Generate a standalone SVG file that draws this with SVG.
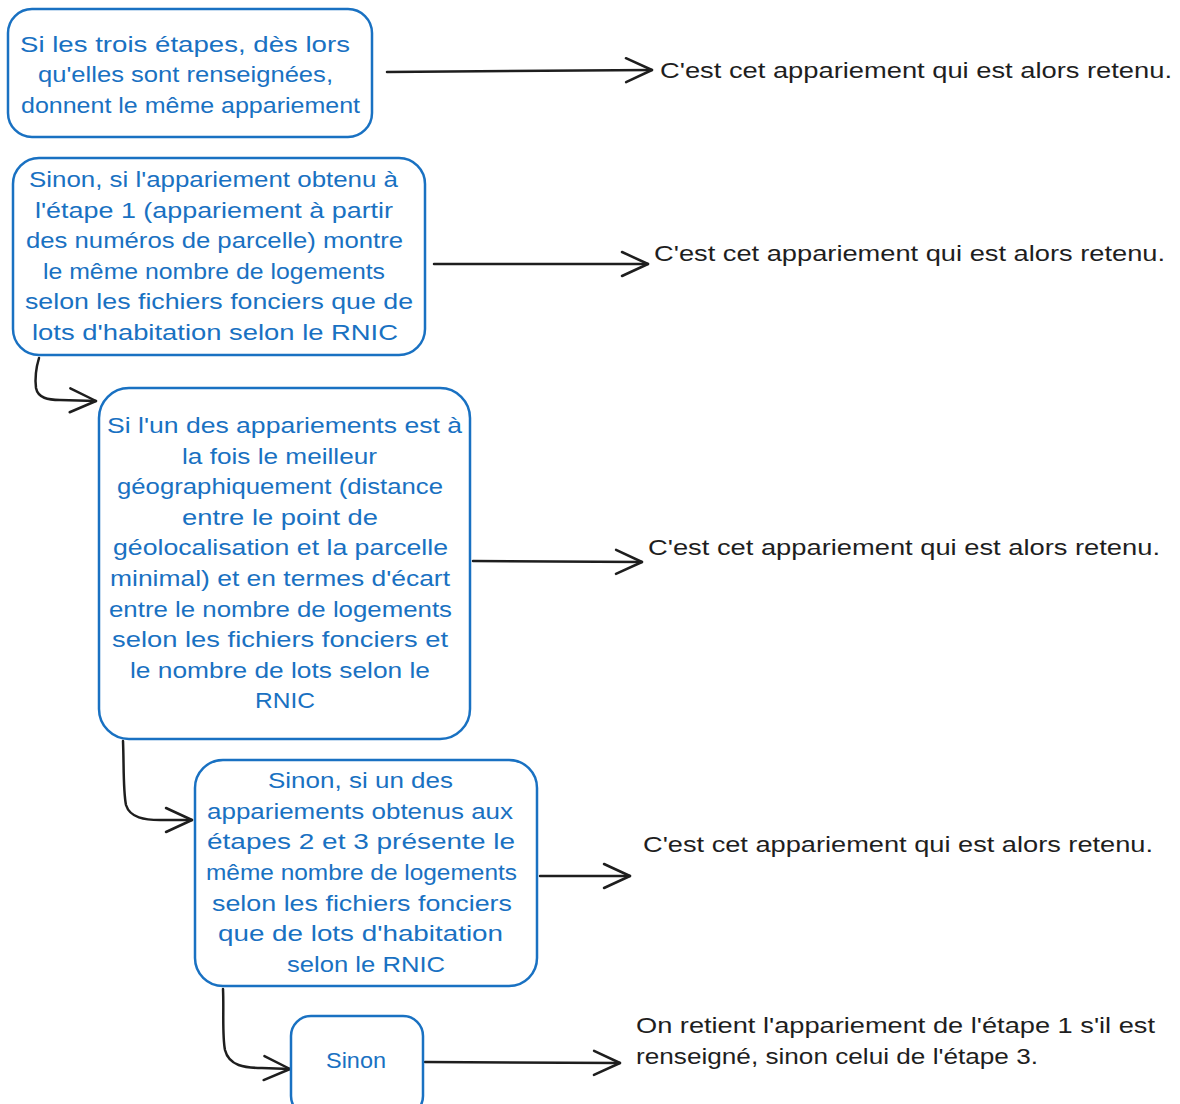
<svg xmlns="http://www.w3.org/2000/svg" width="1180" height="1104" viewBox="0 0 1180 1104">
<defs>
<style>
.box{fill:#ffffff;stroke:#1971c2;stroke-width:2.5}
.bt{font-family:"Liberation Sans","DejaVu Sans",sans-serif;font-size:22px;fill:#1971c2}
.lt{font-family:"Liberation Sans","DejaVu Sans",sans-serif;font-size:22px;fill:#1e1e1e}
.conn{fill:none;stroke:#1e1e1e;stroke-width:2.5;stroke-linecap:round;stroke-linejoin:round}
</style>
<marker id="ah" viewBox="0 0 30 30" refX="28" refY="15" markerWidth="30" markerHeight="30" markerUnits="userSpaceOnUse" orient="auto">
<path d="M2,3 L28,15 L2,27" fill="none" stroke="#1e1e1e" stroke-width="2.5" stroke-linecap="round" stroke-linejoin="round"/>
</marker>
</defs>
<rect width="1180" height="1104" fill="#ffffff"/>

<g id="connectors">
<path class="conn" d="M387,72 L652,70" marker-end="url(#ah)"/>
<path class="conn" d="M434,264 L648,264" marker-end="url(#ah)"/>
<path class="conn" d="M473,561 L642,562" marker-end="url(#ah)"/>
<path class="conn" d="M540,876 L630,876" marker-end="url(#ah)"/>
<path class="conn" d="M425,1062 L620,1063" marker-end="url(#ah)"/>
<path class="conn" d="M39,358 C36,368 35,380 36,388 C38,398 48,400 60,400 L96,401" marker-end="url(#ah)"/>
<path class="conn" d="M123,741 C124,765 123,790 126,805 C130,818 145,820 160,820 L192,820" marker-end="url(#ah)"/>
<path class="conn" d="M223,989 C224,1010 222,1035 225,1050 C229,1066 245,1068 262,1068 L290,1069" marker-end="url(#ah)"/>
</g>

<g id="node1">
<rect class="box" x="8" y="9" width="364" height="128" rx="24"/>
<text class="bt" x="20" y="52" textLength="330" lengthAdjust="spacingAndGlyphs">Si les trois étapes, dès lors</text>
<text class="bt" x="38" y="82" textLength="295" lengthAdjust="spacingAndGlyphs">qu'elles sont renseignées,</text>
<text class="bt" x="21" y="113" textLength="339" lengthAdjust="spacingAndGlyphs">donnent le même appariement</text>
</g>

<g id="node2">
<rect class="box" x="13" y="158" width="412" height="197" rx="26"/>
<text class="bt" x="29" y="187" textLength="369" lengthAdjust="spacingAndGlyphs">Sinon, si l'appariement obtenu à</text>
<text class="bt" x="35" y="218" textLength="358" lengthAdjust="spacingAndGlyphs">l'étape 1 (appariement à partir</text>
<text class="bt" x="26" y="248" textLength="377" lengthAdjust="spacingAndGlyphs">des numéros de parcelle) montre</text>
<text class="bt" x="43" y="279" textLength="342" lengthAdjust="spacingAndGlyphs">le même nombre de logements</text>
<text class="bt" x="25" y="309" textLength="388" lengthAdjust="spacingAndGlyphs">selon les fichiers fonciers que de</text>
<text class="bt" x="32" y="340" textLength="366" lengthAdjust="spacingAndGlyphs">lots d'habitation selon le RNIC</text>
</g>

<g id="node3">
<rect class="box" x="99" y="388" width="371" height="351" rx="30"/>
<text class="bt" x="107" y="433" textLength="355" lengthAdjust="spacingAndGlyphs">Si l'un des appariements est à</text>
<text class="bt" x="182" y="464" textLength="195" lengthAdjust="spacingAndGlyphs">la fois le meilleur</text>
<text class="bt" x="117" y="494" textLength="326" lengthAdjust="spacingAndGlyphs">géographiquement (distance</text>
<text class="bt" x="182" y="525" textLength="196" lengthAdjust="spacingAndGlyphs">entre le point de</text>
<text class="bt" x="113" y="555" textLength="335" lengthAdjust="spacingAndGlyphs">géolocalisation et la parcelle</text>
<text class="bt" x="110" y="586" textLength="340" lengthAdjust="spacingAndGlyphs">minimal) et en termes d'écart</text>
<text class="bt" x="109" y="617" textLength="343" lengthAdjust="spacingAndGlyphs">entre le nombre de logements</text>
<text class="bt" x="112" y="647" textLength="336" lengthAdjust="spacingAndGlyphs">selon les fichiers fonciers et</text>
<text class="bt" x="130" y="678" textLength="300" lengthAdjust="spacingAndGlyphs">le nombre de lots selon le</text>
<text class="bt" x="255" y="708" textLength="60" lengthAdjust="spacingAndGlyphs">RNIC</text>
</g>

<g id="node4">
<rect class="box" x="195" y="760" width="342" height="226" rx="28"/>
<text class="bt" x="268" y="788" textLength="185" lengthAdjust="spacingAndGlyphs">Sinon, si un des</text>
<text class="bt" x="207" y="819" textLength="306" lengthAdjust="spacingAndGlyphs">appariements obtenus aux</text>
<text class="bt" x="207" y="849" textLength="308" lengthAdjust="spacingAndGlyphs">étapes 2 et 3 présente le</text>
<text class="bt" x="206" y="880" textLength="311" lengthAdjust="spacingAndGlyphs">même nombre de logements</text>
<text class="bt" x="212" y="911" textLength="300" lengthAdjust="spacingAndGlyphs">selon les fichiers fonciers</text>
<text class="bt" x="218" y="941" textLength="285" lengthAdjust="spacingAndGlyphs">que de lots d'habitation</text>
<text class="bt" x="287" y="972" textLength="158" lengthAdjust="spacingAndGlyphs">selon le RNIC</text>
</g>

<g id="node5">
<rect class="box" x="291" y="1016" width="132" height="100" rx="20"/>
<text class="bt" x="326" y="1068" textLength="60" lengthAdjust="spacingAndGlyphs">Sinon</text>
</g>

<g id="result1">
<text class="lt" x="660" y="78" textLength="512" lengthAdjust="spacingAndGlyphs">C'est cet appariement qui est alors retenu.</text>
</g>
<g id="result2">
<text class="lt" x="654" y="261" textLength="511" lengthAdjust="spacingAndGlyphs">C'est cet appariement qui est alors retenu.</text>
</g>
<g id="result3">
<text class="lt" x="648" y="555" textLength="512" lengthAdjust="spacingAndGlyphs">C'est cet appariement qui est alors retenu.</text>
</g>
<g id="result4">
<text class="lt" x="643" y="852" textLength="510" lengthAdjust="spacingAndGlyphs">C'est cet appariement qui est alors retenu.</text>
</g>
<g id="result5">
<text class="lt" x="636" y="1033" textLength="519" lengthAdjust="spacingAndGlyphs">On retient l'appariement de l'étape 1 s'il est</text>
<text class="lt" x="636" y="1064" textLength="402" lengthAdjust="spacingAndGlyphs">renseigné, sinon celui de l'étape 3.</text>
</g>
</svg>
